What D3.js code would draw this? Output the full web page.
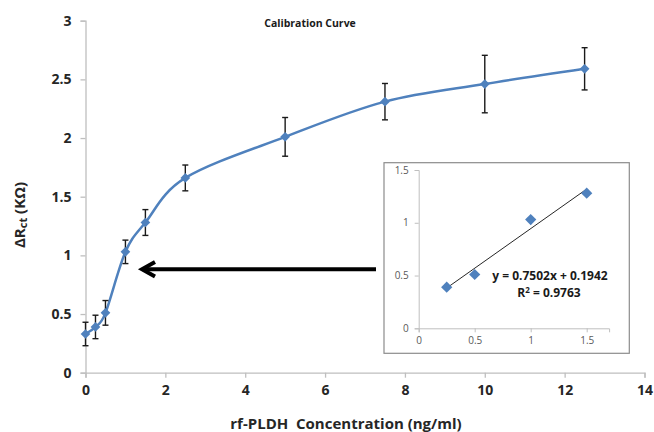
<!DOCTYPE html>
<html>
<head>
<meta charset="utf-8">
<script src="https://cdn.jsdelivr.net/npm/d3@7/dist/d3.min.js"></script>
<style>
  body { margin: 0; background: #fff; }
  svg { display: block; font-family: "Open Sans", "Liberation Sans", sans-serif; }
</style>
</head>
<body>
<svg id="chart" width="654" height="432"></svg>
<script>
// main curve data
var concentration = [0, 0.25, 0.5, 1, 1.5, 2.5, 5, 7.5, 10, 12.5];
var deltaRct = [0.33, 0.39, 0.51, 1.03, 1.28, 1.66, 2.01, 2.31, 2.46, 2.59];
var errorBar = [0.1, 0.1, 0.105, 0.1, 0.11, 0.11, 0.165, 0.155, 0.245, 0.18];
var xTicks = [0, 2, 4, 6, 8, 10, 12, 14];
var yTicks = [0, 0.5, 1, 1.5, 2, 2.5, 3];

// inset (linear range) data
var insetX = [0.25, 0.5, 1, 1.5];
var insetY = [0.39, 0.51, 1.03, 1.28];
var insetXTicks = [0, 0.5, 1, 1.5];
var insetYTicks = [0, 0.5, 1, 1.5];
var slope = 0.7502, intercept = 0.1942, rSquared = 0.9763;

var blue = '#4f81bd',
	axisGray = '#bfbfbf',
	svg = d3.select('#chart');

var x = d3.scaleLinear().domain([0, 14]).range([85.5, 644.5]),
	y = d3.scaleLinear().domain([0, 3]).range([372.7, 20.7]);

// axes
var xAxis = svg.append('g')
	.attr('transform', 'translate(0,' + y(0) + ')')
	.call(d3.axisBottom(x).tickValues(xTicks).tickSize(5).tickPadding(7).tickFormat(d3.format('')));
var yAxis = svg.append('g')
	.attr('transform', 'translate(' + x(0) + ',0)')
	.call(d3.axisLeft(y).tickValues(yTicks).tickSize(5).tickPadding(9).tickFormat(d3.format('')));

[xAxis, yAxis].forEach(function(g) {
	g.select('.domain').attr('stroke', axisGray).attr('stroke-width', 1.3);
	g.selectAll('.tick line').attr('stroke', axisGray).attr('stroke-width', 1.3);
	g.selectAll('.tick text')
		.attr('fill', '#262626')
		.style('font-size', '14px')
		.style('font-weight', 'bold')
		.style('font-family', '"Open Sans", sans-serif');
});

// title and axis labels
svg.append('text')
	.attr('x', 310).attr('y', 27)
	.attr('text-anchor', 'middle')
	.style('font-size', '10.5px').style('font-weight', 'bold')
	.attr('fill', '#1a1a1a')
	.text('Calibration Curve');

svg.append('text')
	.attr('x', 346).attr('y', 429)
	.attr('text-anchor', 'middle')
	.style('font-size', '15px').style('font-weight', 'bold')
	.attr('fill', '#262626')
	.attr('xml:space', 'preserve')
	.text('rf-PLDH  Concentration (ng/ml)');

var yLabel = svg.append('text')
	.attr('transform', 'translate(25,215) rotate(-90)')
	.attr('text-anchor', 'middle')
	.style('font-size', '15px').style('font-weight', 'bold')
	.attr('fill', '#262626');
yLabel.append('tspan').text('ΔR');
yLabel.append('tspan').attr('dy', 2).style('font-size', '11px').text('ct');
yLabel.append('tspan').attr('dy', -2).text(' (KΩ)');

// smoothed line
var pts = concentration.map(function(c, i) { return [c, deltaRct[i]]; });
var line = d3.line()
	.x(function(d) { return x(d[0]); })
	.y(function(d) { return y(d[1]); })
	.curve(d3.curveCardinal.tension(0));

svg.append('path')
	.datum(pts)
	.attr('d', line)
	.attr('fill', 'none')
	.attr('stroke', blue)
	.attr('stroke-width', 2.5);

// error bars
var bars = svg.append('g').attr('stroke', '#1a1a1a').attr('stroke-width', 1.4);
concentration.forEach(function(c, i) {
	var cx = x(c),
		top = y(deltaRct[i] + errorBar[i]),
		bot = y(deltaRct[i] - errorBar[i]);
	bars.append('line').attr('x1', cx).attr('x2', cx).attr('y1', top).attr('y2', bot);
	bars.append('line').attr('x1', cx - 3).attr('x2', cx + 3).attr('y1', top).attr('y2', top);
	bars.append('line').attr('x1', cx - 3).attr('x2', cx + 3).attr('y1', bot).attr('y2', bot);
});

// markers
var diamond = d3.symbol().type(d3.symbolDiamond2).size(60);
svg.append('g').selectAll('path')
	.data(pts)
	.join('path')
	.attr('d', diamond)
	.attr('transform', function(d) { return 'translate(' + x(d[0]) + ',' + y(d[1]) + ')'; })
	.attr('fill', blue);

// arrow
svg.append('line')
	.attr('x1', 376).attr('y1', 269.3).attr('x2', 143).attr('y2', 269.3)
	.attr('stroke', '#000').attr('stroke-width', 4);
svg.append('path')
	.attr('d', 'M155,262 L142,269.3 L155,276.6')
	.attr('fill', 'none').attr('stroke', '#000').attr('stroke-width', 4)
	.attr('stroke-linejoin', 'miter');

// inset
var inset = svg.append('g');
inset.append('rect')
	.attr('x', 384).attr('y', 162.7).attr('width', 245.3).attr('height', 190.6)
	.attr('fill', '#fff').attr('stroke', '#8c8c8c').attr('stroke-width', 1.2);

var ix = d3.scaleLinear().domain([0, 1.7]).range([418.7, 609.1]),
	iy = d3.scaleLinear().domain([0, 1.5]).range([328.3, 170]);

var ixAxis = inset.append('g')
	.attr('transform', 'translate(0,' + iy(0) + ')')
	.call(d3.axisBottom(ix).tickValues(insetXTicks).tickSize(4).tickPadding(5).tickFormat(d3.format('')));
var iyAxis = inset.append('g')
	.attr('transform', 'translate(' + ix(0) + ',0)')
	.call(d3.axisLeft(iy).tickValues(insetYTicks).tickSize(4).tickPadding(6).tickFormat(d3.format('')));

[ixAxis, iyAxis].forEach(function(g) {
	g.select('.domain').attr('stroke', axisGray);
	g.selectAll('.tick line').attr('stroke', axisGray);
	g.selectAll('.tick text')
		.attr('fill', '#595959')
		.style('font-size', '10px')
		.style('font-family', '"Open Sans", sans-serif');
});

inset.append('line')
	.attr('x1', ix(insetX[0])).attr('y1', iy(slope * insetX[0] + intercept))
	.attr('x2', ix(insetX[insetX.length - 1])).attr('y2', iy(slope * insetX[insetX.length - 1] + intercept))
	.attr('stroke', '#262626').attr('stroke-width', 1);

inset.append('g').selectAll('path')
	.data(insetX.map(function(v, i) { return [v, insetY[i]]; }))
	.join('path')
	.attr('d', d3.symbol().type(d3.symbolDiamond2).size(80))
	.attr('transform', function(d) { return 'translate(' + ix(d[0]) + ',' + iy(d[1]) + ')'; })
	.attr('fill', blue);

inset.append('text')
	.attr('x', 550).attr('y', 280)
	.attr('text-anchor', 'middle')
	.style('font-size', '12px').style('font-weight', 'bold')
	.attr('fill', '#1a1a1a')
	.text('y = ' + slope.toFixed(4) + 'x + ' + intercept.toFixed(4));
var r2 = inset.append('text')
	.attr('x', 549).attr('y', 297)
	.attr('text-anchor', 'middle')
	.style('font-size', '12px').style('font-weight', 'bold')
	.attr('fill', '#1a1a1a');
r2.append('tspan').text('R');
r2.append('tspan').attr('dy', -4).style('font-size', '8px').text('2');
r2.append('tspan').attr('dy', 4).text(' = ' + rSquared.toFixed(4));
</script>
</body>
</html>
